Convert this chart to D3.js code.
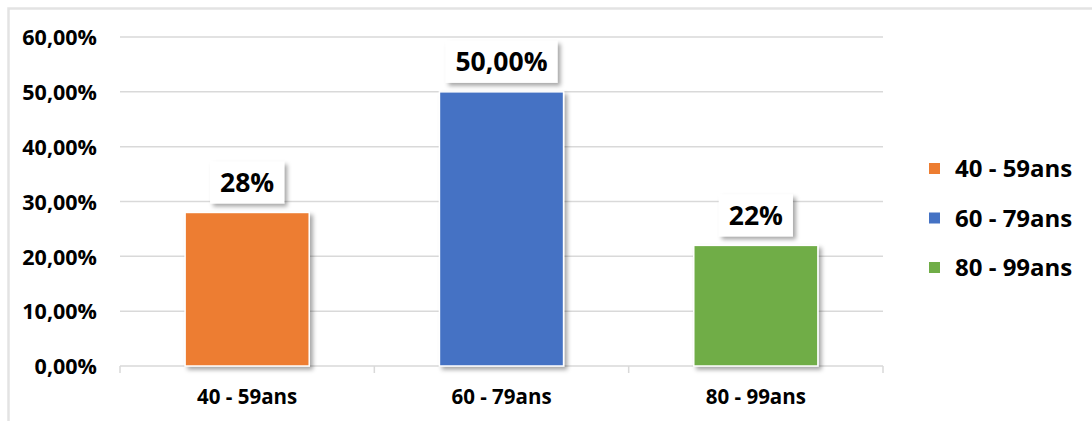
<!DOCTYPE html>
<html>
<head>
<meta charset="utf-8">
<script src="https://cdn.jsdelivr.net/npm/d3@7"></script>
<style>
  html, body { margin: 0; padding: 0; background: #fff; }
  svg { display: block; }
  text { font-family: "Open Sans", "DejaVu Sans", sans-serif; font-weight: 700; fill: #000; }
</style>
</head>
<body>
<svg id="chart" width="1092" height="421"></svg>
<script>
// Age groups and their share of the total
const categories = ["40 - 59ans", "60 - 79ans", "80 - 99ans"];
const shares = [0.28, 0.50, 0.22];
const valueLabels = ["28%", "50,00%", "22%"];
const colors = ["#ED7D31", "#4472C4", "#70AD47"];
const yTicks = [0, 0.1, 0.2, 0.3, 0.4, 0.5, 0.6];

const W = 1092, H = 421;
const plot = { left: 120, right: 883, top: 37, bottom: 366 };

const svg = d3.select("#chart");

// drop shadows for bars and label boxes
const defs = svg.append("defs");
const shadow = defs.append("filter").attr("id", "shadow")
  .attr("x", "-20%").attr("y", "-20%").attr("width", "140%").attr("height", "140%");
shadow.append("feDropShadow")
  .attr("dx", 3).attr("dy", 3).attr("stdDeviation", 2.2)
  .attr("flood-color", "#000").attr("flood-opacity", 0.35);

// chart frame (top and left edges)
svg.append("path")
  .attr("d", `M8.5,${H} L8.5,8.5 L${W},8.5`)
  .attr("fill", "none").attr("stroke", "#e3e3e3").attr("stroke-width", 2.5);

const x = d3.scaleBand()
  .domain(categories)
  .range([plot.left, plot.right])
  .paddingInner(0.512)
  .paddingOuter(0.256);

const y = d3.scaleLinear()
  .domain([0, 0.6])
  .range([plot.bottom, plot.top]);

const pct = d3.format(".2%");
const frPct = v => pct(v).replace(".", ",");

// horizontal gridlines
svg.append("g")
  .selectAll("line")
  .data(yTicks.slice(1))
  .join("line")
  .attr("x1", plot.left).attr("x2", plot.right)
  .attr("y1", d => y(d)).attr("y2", d => y(d))
  .attr("stroke", "#d9d9d9").attr("stroke-width", 1.5);

// y axis labels
const yAxis = svg.append("g")
  .attr("transform", `translate(${plot.left},0)`)
  .call(d3.axisLeft(y).tickValues(yTicks).tickFormat(frPct).tickSize(0).tickPadding(23));
yAxis.select(".domain").remove();
yAxis.selectAll("text")
  .attr("font-size", 21.5)
  .attr("font-family", "Open Sans, sans-serif")
  .attr("font-weight", 700)
  .attr("fill", "#000")
  .attr("dy", "0.36em");

// x axis with tick marks at category boundaries
const xAxisG = svg.append("g").attr("transform", `translate(0,${plot.bottom})`);
xAxisG.append("line")
  .attr("x1", plot.left).attr("x2", plot.right)
  .attr("stroke", "#d9d9d9").attr("stroke-width", 1.5);
const boundaries = categories.map(c => x(c) - x.step() * x.paddingInner() / 2)
  .concat([plot.right]);
xAxisG.selectAll("line.tick")
  .data(boundaries)
  .join("line")
  .attr("class", "tick")
  .attr("x1", d => d).attr("x2", d => d)
  .attr("y1", 0).attr("y2", 7)
  .attr("stroke", "#d9d9d9").attr("stroke-width", 1.5);
xAxisG.selectAll("text")
  .data(categories)
  .join("text")
  .attr("x", d => x(d) + x.bandwidth() / 2)
  .attr("y", 38)
  .attr("text-anchor", "middle")
  .attr("font-size", 20.5)
  .text(d => d);

// bars
svg.append("g")
  .selectAll("rect")
  .data(categories)
  .join("rect")
  .attr("x", d => x(d))
  .attr("y", (d, i) => y(shares[i]))
  .attr("width", x.bandwidth())
  .attr("height", (d, i) => y(0) - y(shares[i]))
  .attr("fill", (d, i) => colors[i])
  .attr("stroke", "#fff").attr("stroke-width", 1.5)
  .attr("filter", "url(#shadow)");

// value labels in white boxes
const labels = svg.append("g")
  .selectAll("g")
  .data(categories)
  .join("g");
labels.each(function (d, i) {
  const g = d3.select(this);
  const cx = x(d) + x.bandwidth() / 2;
  const boxBottom = y(shares[i]) - 9;
  const boxH = 42;
  const rect = g.append("rect").attr("fill", "#fff").attr("filter", "url(#shadow)");
  const t = g.append("text")
    .attr("x", cx)
    .attr("y", boxBottom - boxH / 2)
    .attr("dy", "0.36em")
    .attr("text-anchor", "middle")
    .attr("font-size", 26.5)
    .text(valueLabels[i]);
  const w = t.node().getComputedTextLength() + 20;
  rect.attr("x", cx - w / 2).attr("y", boxBottom - boxH)
    .attr("width", w).attr("height", boxH);
});

// legend
const legend = svg.append("g").attr("transform", "translate(929,168.5)");
const rows = legend.selectAll("g")
  .data(categories)
  .join("g")
  .attr("transform", (d, i) => `translate(0,${i * 49.5})`);
rows.append("rect")
  .attr("x", 0).attr("y", -5.5)
  .attr("width", 11).attr("height", 11)
  .attr("fill", (d, i) => colors[i]);
rows.append("text")
  .attr("x", 26)
  .attr("dy", "0.36em")
  .attr("font-size", 24)
  .text(d => d);
</script>
</body>
</html>
